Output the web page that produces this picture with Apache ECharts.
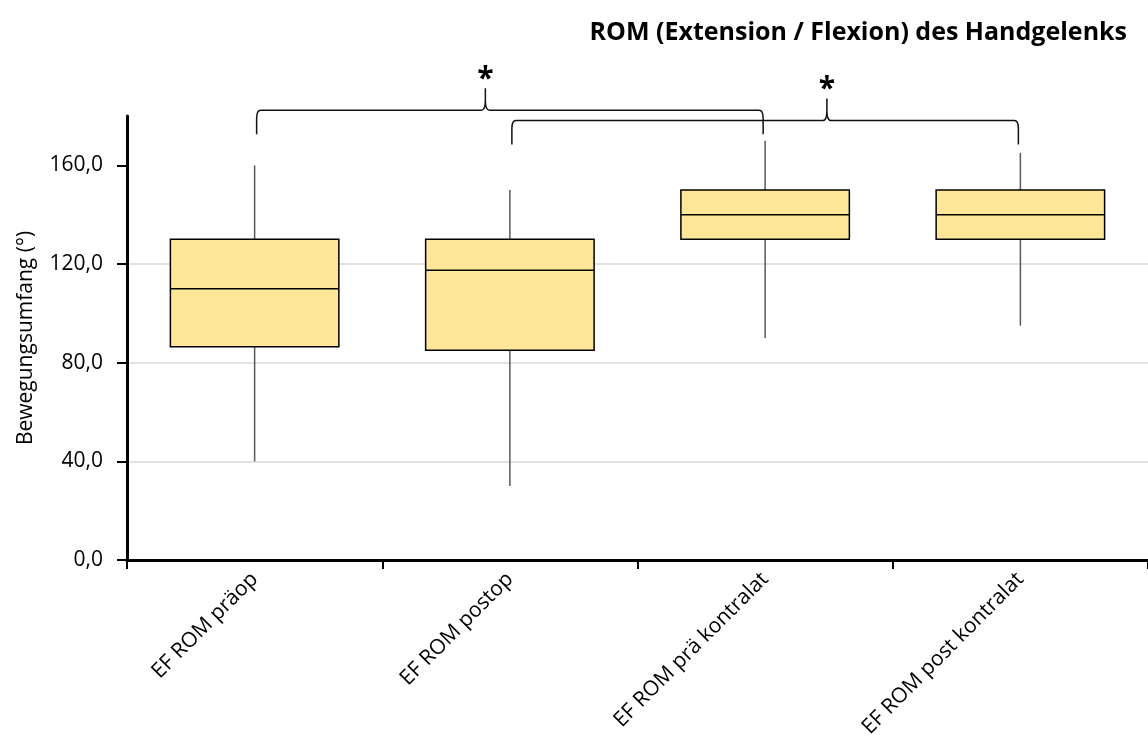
<!DOCTYPE html>
<html>
<head>
<meta charset="utf-8">
<script src="https://cdn.jsdelivr.net/npm/echarts@6/dist/echarts.min.js"></script>
<style>
  html, body { margin: 0; padding: 0; background: #fff; }
  #chart { width: 1148px; height: 742px; }
</style>
</head>
<body>
<div id="chart"></div>
<script>
const categories = ["EF ROM präop", "EF ROM postop", "EF ROM prä kontralat", "EF ROM post kontralat"];
const whiskerLow = [40, 30, 90, 95];
const q1 = [86.5, 85, 130, 130];
const median = [110, 117.5, 140, 140];
const q3 = [130, 130, 150, 150];
const whiskerHigh = [160, 150, 170, 165];
const yTicks = [0, 40, 80, 120, 160];

// significance brackets: from / to / peak position (category units), level (axis units)
const bracketFrom = [0, 1];
const bracketTo = [2, 3];
const bracketPeak = [0.904, 2.242];
const bracketLevel = [182.3, 178.2];
const bracketLabel = ["*", "*"];

const FONT = "'Open Sans', 'Noto Sans', sans-serif";

const boxData = categories.map((c, i) => [i, whiskerLow[i], q1[i], median[i], q3[i], whiskerHigh[i]]);
const bracketData = bracketFrom.map((f, i) => [f, bracketTo[i], bracketPeak[i], bracketLevel[i], bracketLabel[i]]);

function renderBox(params, api) {
  const i = api.value(0);
  const band = api.size([1, 0])[0];
  const w = band * 0.66;
  const low = api.coord([i, api.value(1)]);
  const lo = api.coord([i, api.value(2)]);
  const med = api.coord([i, api.value(3)]);
  const hi = api.coord([i, api.value(4)]);
  const top = api.coord([i, api.value(5)]);
  const x = low[0];
  const whisker = { stroke: "#595959", lineWidth: 1.5 };
  return {
    type: "group",
    children: [
      { type: "line", shape: { x1: x, y1: top[1], x2: x, y2: hi[1] }, style: whisker },
      { type: "line", shape: { x1: x, y1: lo[1], x2: x, y2: low[1] }, style: whisker },
      {
        type: "rect",
        shape: { x: x - w / 2, y: hi[1], width: w, height: lo[1] - hi[1] },
        style: { fill: "#FFE699", stroke: "#000", lineWidth: 1.5 }
      },
      { type: "line", shape: { x1: x - w / 2, y1: med[1], x2: x + w / 2, y2: med[1] }, style: { stroke: "#000", lineWidth: 1.5 } }
    ]
  };
}

function renderBracket(params, api) {
  const from = api.value(0);
  const a = api.coord([from, api.value(3)]);
  const b = api.coord([api.value(1), api.value(3)]);
  const band = api.size([1, 0])[0];
  const xm = a[0] + (api.value(2) - from) * band;
  const x0 = a[0] + 2, x1 = b[0] - 2, y = a[1];
  const rx = 4, ry = 8, drop = 24, rise = 22, px = 4, py = 10;
  const d = [
    "M", x0, y + drop, "L", x0, y + ry, "Q", x0, y, x0 + rx, y,
    "L", xm - px, y, "Q", xm, y, xm, y - py, "L", xm, y - rise,
    "M", xm, y - py, "Q", xm, y, xm + px, y,
    "L", x1 - rx, y, "Q", x1, y, x1, y + ry, "L", x1, y + drop
  ].join(" ");
  return {
    type: "group",
    children: [
      { type: "path", shape: { pathData: d }, style: { fill: null, stroke: "#111", lineWidth: 1.5 } },
      {
        type: "text",
        x: xm, y: y - rise - 9,
        style: { text: api.value(4), fill: "#000", font: "bold 30px " + FONT, textAlign: "center", textVerticalAlign: "middle" }
      }
    ]
  };
}

const chart = echarts.init(document.getElementById("chart"));
chart.setOption({
  animation: false,
  backgroundColor: "#fff",
  title: {
    text: "ROM (Extension / Flexion) des Handgelenks",
    right: 16, top: 15,
    textStyle: { fontFamily: FONT, fontSize: 25, fontWeight: "bold", color: "#000" }
  },
  grid: { left: 127, right: -3, top: 116, bottom: 182 },
  xAxis: {
    type: "category",
    data: categories,
    axisLine: { lineStyle: { color: "#000", width: 3 } },
    axisTick: { show: true, length: 9, lineStyle: { color: "#000", width: 2 } },
    axisLabel: { rotate: 45, margin: 16, fontFamily: FONT, fontSize: 21, color: "#000", padding: [0, 0, 0, 0] }
  },
  yAxis: {
    type: "value",
    min: 0, max: 180, interval: 40,
    name: "Bewegungsumfang (°)",
    nameLocation: "middle",
    nameGap: 90,
    nameTextStyle: { fontFamily: FONT, fontSize: 21, color: "#000" },
    axisLine: { show: true, lineStyle: { color: "#000", width: 3 } },
    axisTick: { show: true, length: 10, customValues: yTicks, lineStyle: { color: "#000", width: 2 } },
    axisLabel: {
      customValues: yTicks, margin: 24,
      fontFamily: FONT, fontSize: 21, color: "#000",
      formatter: v => v.toFixed(1).replace(".", ",")
    },
    splitLine: { show: true, showMaxLine: false, lineStyle: { color: "#d9d9d9", width: 1.5 } }
  },
  series: [
    {
      type: "custom",
      renderItem: renderBox,
      data: boxData,
      encode: { x: 0, y: [1, 2, 3, 4, 5] },
      z: 3
    },
    {
      type: "custom",
      renderItem: renderBracket,
      data: bracketData,
      encode: { x: [0, 1], y: 3 },
      clip: false,
      z: 4
    }
  ]
});
</script>
</body>
</html>
